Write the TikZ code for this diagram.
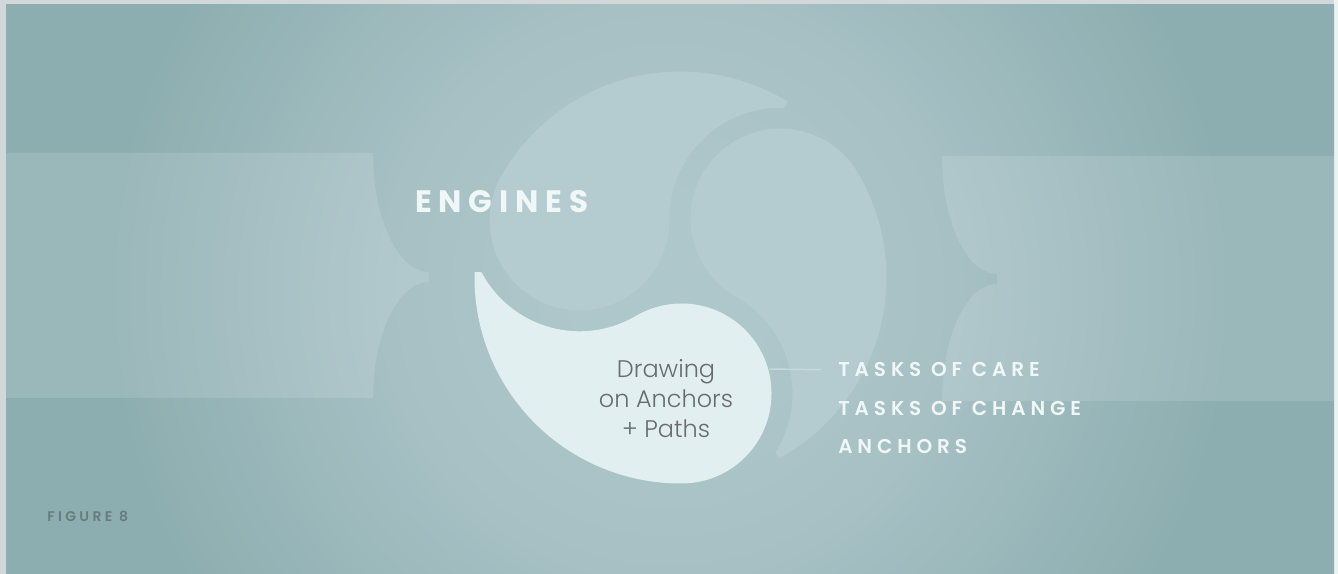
\documentclass[tikz,border=0pt]{standalone}
\usepackage{fontspec}
\setmainfont{Poppins}
\newfontfamily\headfont{Poppins}[UprightFont=* Bold, LetterSpace=22]
\newfontfamily\taskfont{Poppins}[UprightFont=* SemiBold, LetterSpace=24.5]
\newfontfamily\bodyfont{Poppins}[UprightFont=* Light]
\newfontfamily\figfont{Poppins}[UprightFont=* SemiBold, LetterSpace=24]

\definecolor{frame}{HTML}{D2D8D9}
\definecolor{frameR}{HTML}{EEF1F1}
\definecolor{bgin}{HTML}{ADC7CB}
\definecolor{bgmid}{HTML}{A6C0C4}
\definecolor{bgout}{HTML}{8DAEB0}
\definecolor{swirl}{HTML}{B4CBD0}
\definecolor{paleswirl}{HTML}{E2EFF0}
\definecolor{inktext}{HTML}{676C6D}
\definecolor{figink}{HTML}{677C7B}
\definecolor{capsink}{HTML}{F0F7F7}
\definecolor{wire}{HTML}{C6DADD}

\pgfdeclareradialshading{bgglow}{\pgfpoint{0bp}{0bp}}{color(0bp)=(bgin); color(3bp)=(bgin); color(9.5bp)=(bgmid); color(18.5bp)=(bgout); color(50bp)=(bgout)}

\tikzset{
  task/.style={anchor=base west, inner sep=0pt, text=capsink, font=\taskfont\fontsize{15}{18}\selectfont},
  panel/.style={fill=white, fill opacity=0.12}
}

\begin{document}
\begin{tikzpicture}[x=0.75pt, y=0.75pt]
  \useasboundingbox (0,0) rectangle (1338,574);

  % frame and background
  \fill[frame] (0,0) rectangle (1338,574);
  \fill[frameR] (1334,0) rectangle (1338,574);
  \begin{scope}
    \clip (6,0) rectangle (1334,569);
    \shade[shading=bgglow] (670,284) circle[radius=760];
  \end{scope}

  % side panels
  \fill[panel] (6,421) -- (373,421) arc[start angle=180, end angle=270, x radius=56, y radius=119]
    -- (429,292) arc[start angle=90, end angle=180, x radius=56, y radius=116] -- (6,176) -- cycle;
  \fill[panel] (1334,418) -- (942,418) arc[start angle=180, end angle=270, x radius=55, y radius=118]
    -- (997,290) arc[start angle=90, end angle=180, x radius=55, y radius=117] -- (1334,173) -- cycle;

  % swirl
  \coordinate (c) at (680.5,296.5);
  \foreach \rot/\tint in {60.5/swirl, -59.5/swirl, 180.5/paleswirl}
    \fill[\tint, shift={(c)}, rotate=\rot] (-2:206) arc[start angle=-2, end angle=90, radius=206]
      arc[start angle=90, end angle=300, radius=90]
      arc[start angle=120, end angle=27.4, radius=110.9] -- cycle;
  \coordinate (hb) at (769,205);

  % labels
  \node[anchor=base west, inner sep=0pt, text=capsink, font=\headfont\fontsize{23.25}{28}\selectfont] (engines) at (415,361) {ENGINES};
  \node[align=center, text=inktext, font=\bodyfont\fontsize{18}{22.5}\selectfont] (drawing) at (666,175) {Drawing\\on Anchors\\+ Paths};
  \node[task] (care) at (838,197) {TASKS OF CARE};
  \node[task] (change) at (838,158.5) {TASKS OF CHANGE};
  \node[task] (anchors) at (838,120) {ANCHORS};
  \node[anchor=base west, inner sep=0pt, text=figink, font=\figfont\fontsize{10.5}{12}\selectfont] (figure) at (47,52) {FIGURE 8};

  % connector
  \draw[wire, line width=1.1pt, shorten >=12.75pt] (hb) -- (care.west);

\end{tikzpicture}
\end{document}
